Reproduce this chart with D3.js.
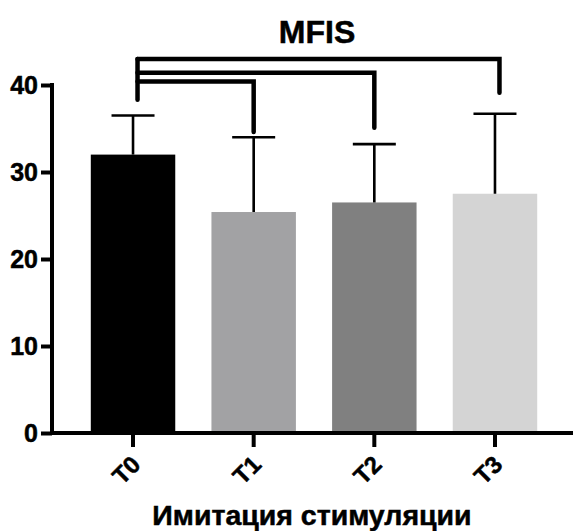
<!DOCTYPE html>
<html>
<head>
<meta charset="utf-8">
<script src="https://cdn.jsdelivr.net/npm/d3@7"></script>
<style>
  html, body { margin: 0; padding: 0; background: #fff; }
  svg { display: block; }
  svg text { font-family: "Liberation Sans", Arial, Helvetica, sans-serif; font-weight: bold; fill: #000; stroke: #000; stroke-width: 0.5px; }
</style>
</head>
<body>
<svg id="chart" width="574" height="531"></svg>
<script>
// Group labels, means and upper error limits (MFIS score)
const categories = ["T0", "T1", "T2", "T3"];
const means = [32.0, 25.4, 26.5, 27.5];
const errorTops = [36.5, 34.0, 33.2, 36.7];
const barColors = ["#000000", "#a2a2a4", "#808080", "#d4d4d4"];
const yTicks = [0, 10, 20, 30, 40];

// Comparison brackets: T0 vs each later time point (levels in score units)
const bracketFrom = ["T0", "T0", "T0"];
const bracketTo = ["T3", "T2", "T1"];
const bracketLevel = [43.0, 41.4, 40.4];
const bracketLegEnd = [39.1, 35.1, 34.6];
const bracketStartEnd = 38.3;

const svg = d3.select("#chart");

const y = d3.scaleLinear().domain([0, 40]).range([433, 85]);
const x = d3.scaleBand()
  .domain(categories)
  .range([72.7, 555.3])
  .paddingInner(0.3)
  .paddingOuter(0.15);

const cx = c => x(c) + x.bandwidth() / 2;

// Bars
svg.append("g").selectAll("rect")
  .data(categories)
  .join("rect")
  .attr("x", d => x(d))
  .attr("width", x.bandwidth())
  .attr("y", (d, i) => y(means[i]))
  .attr("height", (d, i) => y(0) - y(means[i]))
  .attr("fill", (d, i) => barColors[i]);

// Error bars (upper only)
const eb = svg.append("g").attr("stroke", "#000").attr("stroke-width", 2.6);
categories.forEach((c, i) => {
  eb.append("line")
    .attr("x1", cx(c)).attr("x2", cx(c))
    .attr("y1", y(means[i])).attr("y2", y(errorTops[i]));
  eb.append("line")
    .attr("x1", cx(c) - 21.5).attr("x2", cx(c) + 21.5)
    .attr("y1", y(errorTops[i])).attr("y2", y(errorTops[i]));
});

// Y axis
const yAxis = svg.append("g")
  .attr("transform", "translate(52,0)")
  .call(d3.axisLeft(y).tickValues(yTicks).tickSize(11).tickPadding(3).tickSizeOuter(0));
yAxis.attr("font-family", null).attr("font-size", null);
yAxis.select(".domain").remove();
yAxis.selectAll(".tick line").attr("stroke", "#000").attr("stroke-width", 4);
yAxis.selectAll(".tick text")
  .attr("fill", "#000")
  .attr("font-size", 25)
  .attr("font-weight", "bold");

// X axis
const xAxis = svg.append("g")
  .attr("transform", "translate(0,433)")
  .call(d3.axisBottom(x).tickSize(14).tickSizeOuter(0));
xAxis.attr("font-family", null).attr("font-size", null);
xAxis.select(".domain").remove();
xAxis.selectAll(".tick line").attr("stroke", "#000").attr("stroke-width", 4);
xAxis.selectAll(".tick text")
  .attr("fill", "#000")
  .attr("font-size", 24)
  .attr("font-weight", "bold")
  .attr("text-anchor", "end")
  .attr("dy", "0.35em")
  .attr("transform", "translate(3,27) rotate(-45)")
  .attr("y", 0)
  .attr("x", 0);

// Axis lines
const axes = svg.append("g").attr("stroke", "#000").attr("stroke-width", 4).attr("fill", "none");
axes.append("line").attr("x1", 52).attr("x2", 52).attr("y1", y(40) - 2).attr("y2", y(0) + 2);
axes.append("line").attr("x1", 50).attr("x2", 573).attr("y1", y(0)).attr("y2", y(0));

// Comparison brackets
const br = svg.append("g")
  .attr("stroke", "#000").attr("stroke-width", 4.5)
  .attr("fill", "none").attr("stroke-linecap", "round").attr("stroke-linejoin", "miter");
const legX = c => cx(c) + (c === "T0" || c === "T3" ? 4.5 : 0);
bracketFrom.forEach((f, i) => {
  const t = bracketTo[i];
  br.append("path").attr("d",
    `M${legX(f)},${y(bracketLevel[i])} H${legX(t)} V${y(bracketLegEnd[i])}`);
});
br.append("line")
  .attr("x1", legX("T0")).attr("x2", legX("T0"))
  .attr("y1", y(d3.max(bracketLevel))).attr("y2", y(bracketStartEnd));

// Title
svg.append("text")
  .attr("x", 317).attr("y", 43)
  .attr("text-anchor", "middle")
  .attr("font-size", 32)
  .text("MFIS");

// X axis title
svg.append("text")
  .attr("x", 312).attr("y", 525)
  .attr("text-anchor", "middle")
  .attr("font-size", 28.5)
  .text("Имитация стимуляции");
</script>
</body>
</html>
